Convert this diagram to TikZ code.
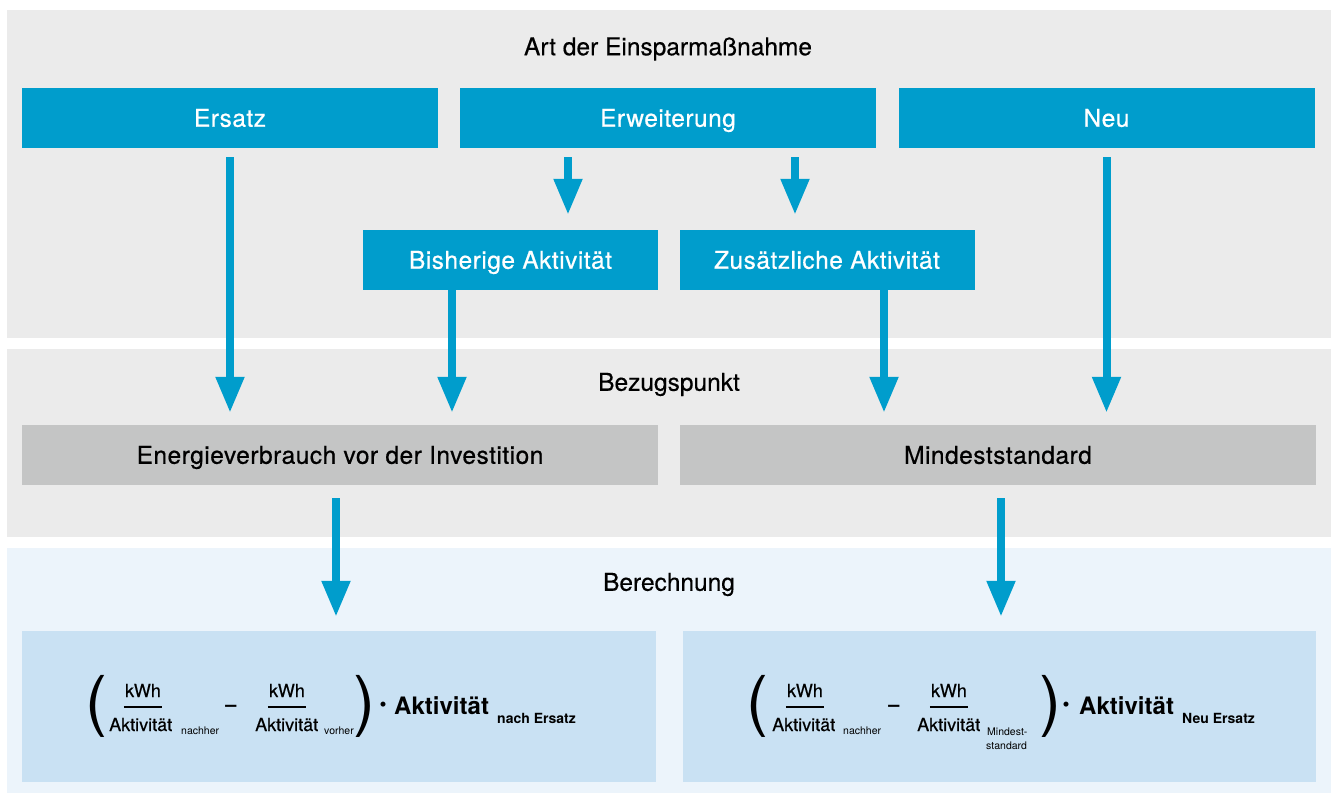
\documentclass[tikz,border=0pt]{standalone}
\usepackage{fontspec}
\setmainfont{TeX Gyre Heros}
\newfontfamily\mittel[FakeBold=0.6, LetterSpace=2.0]{TeX Gyre Heros}
\newfontfamily\halb[FakeBold=0.35]{TeX Gyre Heros}
\usetikzlibrary{arrows.meta}
\definecolor{kblau}{RGB}{0,157,204}
\definecolor{hgrau}{RGB}{235,235,235}
\definecolor{kgrau}{RGB}{196,197,197}
\definecolor{hblau}{RGB}{236,244,251}
\definecolor{fblau}{RGB}{201,225,243}
\newcommand{\fs}[1]{\fontsize{#1}{#1}\selectfont}

\begin{document}
\begin{tikzpicture}[x=1pt, y=-1pt,
	box/.style={minimum width=416pt, minimum height=60pt, inner sep=0, text height=17.5pt, text depth=0pt, font=\mittel\fs{24.5}},
	blaubox/.style={box, fill=kblau, text=white},
	graubox/.style={box, fill=kgrau, minimum width=636pt},
	titel/.style={inner sep=0, text height=17.5pt, text depth=0pt, font=\halb\fs{24.5}},
	pfeil/.style={kblau, line width=8pt, -{Triangle[length=36pt, width=27pt]}},
	ft/.style={inner sep=0, anchor=base west, font=\halb\fs{18}},
	fz/.style={inner sep=0, anchor=base, font=\halb\fs{18}},
	fi/.style={inner sep=0, anchor=base west, font=\fs{10.5}},
	fb/.style={inner sep=0, anchor=base west, font=\bfseries\fs{24}},
	fbi/.style={inner sep=0, anchor=base west, font=\bfseries\fs{14}},
	par/.style={inner sep=0, font=\fs{66}},
	op/.style={inner sep=0, font=\bfseries\fs{20}},
	bar/.style={line width=2pt}]
	\useasboundingbox (0,0) rectangle (1333,794);
	% Hintergrund
	\fill[hgrau] (7,10) rectangle (1331,338);
	\fill[hgrau] (7,349) rectangle (1331,537);
	\fill[hblau] (7,548) rectangle (1331,793);
	% Art der Einsparmassnahme
	\node[titel] (art) at (668,46.5) {Art der Einsparmaßnahme};
	\node[blaubox] (ersatz) at (230,118) {Ersatz};
	\node[blaubox] (erw) at (668,118) {Erweiterung};
	\node[blaubox] (neu) at (1106.5,118) {Neu};
	\node[blaubox, minimum width=295pt] (bish) at (510.5,260) {Bisherige Aktivität};
	\node[blaubox, minimum width=295pt] (zus) at (827,260) {Zusätzliche Aktivität};
	% Bezugspunkt
	\node[titel] (bez) at (669,382) {Bezugspunkt};
	\node[graubox] (energie) at (340,455) {Energieverbrauch vor der Investition};
	\node[graubox] (mind) at (998,455) {Mindeststandard};
	% Berechnung
	\node[titel] (ber) at (669,582) {Berechnung};
	\node[fill=fblau, minimum width=634pt, minimum height=151pt, inner sep=0] (fl) at (339,706.5) {};
	\node[fill=fblau, minimum width=633pt, minimum height=151pt, inner sep=0] (fr) at (999.5,706.5) {};
	% Pfeile
	\draw[pfeil, shorten <=9pt, shorten >=12pt] (ersatz.south) -- (ersatz.south |- energie.north);
	\draw[pfeil, shorten <=9pt, shorten >=15pt] ([xshift=-100pt]erw.south) -- ([xshift=-100pt]erw.south |- bish.north);
	\draw[pfeil, shorten <=9pt, shorten >=15pt] ([xshift=127pt]erw.south) -- ([xshift=127pt]erw.south |- zus.north);
	\draw[pfeil, shorten <=9pt, shorten >=12pt] (neu.south) -- (neu.south |- mind.north);
	\draw[pfeil, shorten >=12pt] ([xshift=-58.5pt]bish.south) -- ([xshift=-58.5pt]bish.south |- energie.north);
	\draw[pfeil, shorten >=12pt] ([xshift=57pt]zus.south) -- ([xshift=57pt]zus.south |- mind.north);
	\draw[pfeil, shorten <=13pt, shorten >=14pt] ([xshift=-4pt]energie.south) -- ([xshift=-4pt]energie.south |- fl.north);
	\draw[pfeil, shorten <=13pt, shorten >=14pt] ([xshift=3pt]mind.south) -- ([xshift=3pt]mind.south |- fr.north);
	% Formel links
	\node[par] (kl1) at (96,706) {(};
	\node[fz] (zl1) at (143,697) {kWh};
	\draw[bar] ([xshift=-1pt, yshift=-10pt]zl1.base west) -- ([xshift=1pt, yshift=-10pt]zl1.base east);
	\node[ft] (nl1) at (109,731) {Aktivität};
	\node[fi] (il1) at (181,734) {nachher};
	\node[op] (ml) at (231,708) {–};
	\node[fz] (zl2) at (287,697) {kWh};
	\draw[bar] ([xshift=-1pt, yshift=-10pt]zl2.base west) -- ([xshift=1pt, yshift=-10pt]zl2.base east);
	\node[ft] (nl2) at (255,731) {Aktivität};
	\node[fi] (il2) at (324,734) {vorher};
	\node[par] (kl2) at (364,706) {)};
	\node[inner sep=0, font=\fs{20}] (pl) at (383,707) {\textbullet};
	\node[fb] (al) at (394,714) {Aktivität};
	\node[fbi] (ail) at (497,723) {nach Ersatz};
	% Formel rechts
	\node[par] (kr1) at (757,706) {(};
	\node[fz] (zr1) at (805,697) {kWh};
	\draw[bar] ([xshift=-1pt, yshift=-10pt]zr1.base west) -- ([xshift=1pt, yshift=-10pt]zr1.base east);
	\node[ft] (nr1) at (772,731) {Aktivität};
	\node[fi] (ir1) at (843,734) {nachher};
	\node[op] (mr) at (894,708) {–};
	\node[fz] (zr2) at (949,697) {kWh};
	\draw[bar] ([xshift=-1pt, yshift=-10pt]zr2.base west) -- ([xshift=1pt, yshift=-10pt]zr2.base east);
	\node[ft] (nr2) at (917,731) {Aktivität};
	\node[fi] (ir2) at (987,735) {Mindest-};
	\node[fi] (ir3) at (986,749) {standard};
	\node[par] (kr2) at (1050,706) {)};
	\node[inner sep=0, font=\fs{20}] (pr) at (1066,707) {\textbullet};
	\node[fb] (ar) at (1079,714) {Aktivität};
	\node[fbi] (air) at (1182,723) {Neu Ersatz};
\end{tikzpicture}
\end{document}
